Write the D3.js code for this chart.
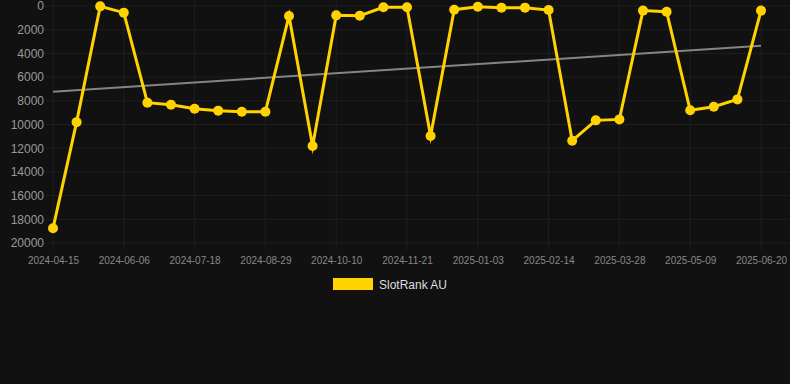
<!DOCTYPE html>
<html>
<head>
<meta charset="utf-8">
<script src="https://cdn.jsdelivr.net/npm/d3@7"></script>
<style>
  html, body { margin: 0; padding: 0; background: #111111; }
  svg { display: block; font-family: "Liberation Sans", Arial, sans-serif; }
</style>
</head>
<body>
<div id="chart"></div>
<script>
// categories (one per data point)
const dates = [
  '2024-04-15', '2024-05-03', '2024-05-20', '2024-06-06', '2024-06-20', '2024-07-04',
  '2024-07-18', '2024-08-01', '2024-08-15', '2024-08-29', '2024-09-12', '2024-09-26',
  '2024-10-10', '2024-10-24', '2024-11-07', '2024-11-21', '2024-12-05', '2024-12-19',
  '2025-01-03', '2025-01-17', '2025-01-31', '2025-02-14', '2025-02-28', '2025-03-14',
  '2025-03-28', '2025-04-11', '2025-04-25', '2025-05-09', '2025-05-23', '2025-06-06',
  '2025-06-20'
];
// SlotRank AU
const ranks = [
  18760, 9800, 30, 560, 8160, 8330,
  8670, 8830, 8920, 8920, 840, 11820,
  790, 815, 110, 110, 10970, 310,
  60, 140, 140, 340, 11370, 9650,
  9570, 390, 480, 8800, 8500, 7880,
  390
];
// trend line value at first and last category
const trend = [7230, 3350];
const yTicks = [0, 2000, 4000, 6000, 8000, 10000, 12000, 14000, 16000, 18000, 20000];
const xTickLabels = dates.filter((d, i) => i % 3 === 0);

const W = 790, H = 384;
const margin = { left: 53, right: 29, top: 6, bottom: 141 };

const svg = d3.select('#chart').append('svg')
  .attr('width', W)
  .attr('height', H);

svg.append('rect').attr('width', W).attr('height', H).attr('fill', '#111111');

const x = d3.scalePoint()
  .domain(dates)
  .range([margin.left, W - margin.right]);

const y = d3.scaleLinear()
  .domain([0, 20000])
  .range([margin.top, H - margin.bottom]);

// grid
const grid = svg.append('g');
grid.selectAll('.hg')
  .data(yTicks)
  .enter().append('line')
  .attr('x1', 45).attr('x2', W)
  .attr('y1', d => y(d)).attr('y2', d => y(d))
  .attr('stroke', '#1f1f1f').attr('stroke-width', 1);
grid.selectAll('.vg')
  .data(xTickLabels)
  .enter().append('line')
  .attr('x1', d => x(d)).attr('x2', d => x(d))
  .attr('y1', 0).attr('y2', y(20000) + 7)
  .attr('stroke', '#1f1f1f').attr('stroke-width', 1);

// y axis
const yAxis = svg.append('g')
  .attr('transform', `translate(${margin.left - 9},0)`)
  .call(d3.axisLeft(y).tickValues(yTicks).tickFormat(d3.format('d')).tickSize(0).tickPadding(0));
yAxis.select('.domain').remove();
yAxis.selectAll('text')
  .attr('fill', '#9a9a9a')
  .style('font-size', '12px')
  .style('font-family', '"Liberation Sans", Arial, sans-serif');

// x axis
const xAxis = svg.append('g')
  .attr('transform', `translate(0,${y(20000) + 12})`)
  .call(d3.axisBottom(x).tickValues(xTickLabels).tickSize(0).tickPadding(2));
xAxis.select('.domain').remove();
xAxis.selectAll('text')
  .attr('fill', '#888888')
  .style('font-size', '10px')
  .style('font-family', '"Liberation Sans", Arial, sans-serif');

// trend line
svg.append('line')
  .attr('x1', x(dates[0])).attr('y1', y(trend[0]))
  .attr('x2', x(dates[dates.length - 1])).attr('y2', y(trend[1]))
  .attr('stroke', '#858585').attr('stroke-width', 2);

// series line
const line = d3.line()
  .x((d, i) => x(dates[i]))
  .y(d => y(d));

svg.append('path')
  .datum(ranks)
  .attr('d', line)
  .attr('fill', 'none')
  .attr('stroke', '#FFD200')
  .attr('stroke-width', 3)
  .attr('stroke-linejoin', 'miter')
  .attr('stroke-miterlimit', 10);

svg.selectAll('.pt')
  .data(ranks)
  .enter().append('circle')
  .attr('cx', (d, i) => x(dates[i]))
  .attr('cy', d => y(d))
  .attr('r', 5)
  .attr('fill', '#FFD200');

// legend
const legend = svg.append('g').attr('transform', 'translate(333,278)');
legend.append('rect')
  .attr('width', 40).attr('height', 12)
  .attr('fill', '#FFD200');
legend.append('text')
  .attr('x', 46).attr('y', 10.5)
  .attr('fill', '#dddddd')
  .style('font-size', '12px')
  .text('SlotRank AU');
</script>
</body>
</html>
